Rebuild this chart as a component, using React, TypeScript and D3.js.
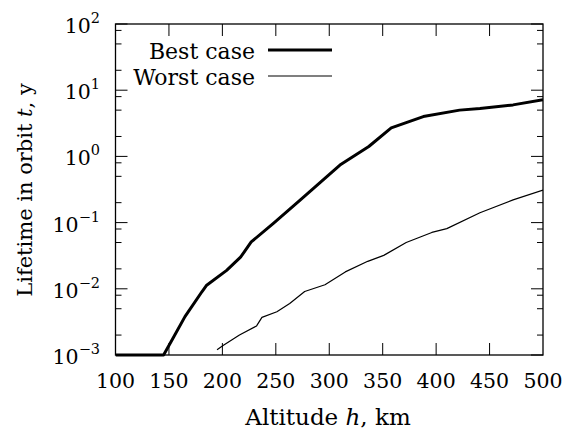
import React from "react";
import * as d3 from "d3";

const xTicks = [100, 150, 200, 250, 300, 350, 400, 450, 500];
const yExponents = [2, 1, 0, -1, -2, -3];

const bestAlt = [100, 145, 153, 165, 181, 185, 204, 217, 227, 248, 273, 310, 337, 358, 388, 422, 441, 472, 500];
const bestLife = [0.00001, 0.001, 0.0017, 0.0038, 0.0091, 0.0112, 0.019, 0.03, 0.051, 0.098, 0.22, 0.74, 1.41, 2.7, 4.0, 5.0, 5.3, 6.0, 7.2];

const worstAlt = [195, 201, 216, 232, 237, 251, 263, 277, 296, 315, 336, 351, 372, 396, 410, 441, 472, 500];
const worstLife = [0.0012, 0.0014, 0.002, 0.00275, 0.0037, 0.0045, 0.006, 0.0091, 0.0115, 0.018, 0.026, 0.032, 0.05, 0.071, 0.081, 0.141, 0.22, 0.31];

const seriesNames = ["Best case", "Worst case"];

const W = 569;
const H = 430;
const L = 115.5, R = 543, T = 24, B = 355;
const FONT = "'DejaVu Serif', serif";

export default function App() {
  const x = d3.scaleLinear().domain([100, 500]).range([L, R]);
  const y = d3.scaleLog().domain([1e-3, 1e2]).range([B, T]).clamp(true);
  const line = d3
    .line<[number, number]>()
    .x((d) => x(d[0]))
    .y((d) => y(d[1]));
  const best: [number, number][] = bestAlt.map((a, i) => [a, bestLife[i]]);
  const worst: [number, number][] = worstAlt.map((a, i) => [a, worstLife[i]]);

  const minor: number[] = [];
  for (let e = -3; e < 2; e++) {
    [2, 5, 8].forEach((m) => minor.push(m * Math.pow(10, e)));
  }
  const major = yExponents.map((e) => Math.pow(10, e));
  const ts = { fontFamily: FONT };

  return (
    <svg
      width={W}
      height={H}
      style={{ position: "absolute", left: 0, top: 0, background: "#fff", fontFamily: FONT }}
    >
      <defs>
        <clipPath id="plotclip">
          <rect x={L} y={T - 2} width={R - L} height={B - T + 4} />
        </clipPath>
      </defs>
      <rect x={0} y={0} width={W} height={H} fill="#fff" />
      <g stroke="#000" strokeWidth={1}>
        {xTicks.slice(1, -1).map((t) => (
          <g key={"xt" + t}>
            <line x1={x(t)} x2={x(t)} y1={B} y2={B - 12} />
            <line x1={x(t)} x2={x(t)} y1={T} y2={T + 12} />
          </g>
        ))}
        {major.map((v) => (
          <g key={"ym" + v}>
            <line x1={L} x2={L + 12} y1={y(v)} y2={y(v)} />
            <line x1={R} x2={R - 12} y1={y(v)} y2={y(v)} />
          </g>
        ))}
        {minor.map((v) => (
          <g key={"yn" + v}>
            <line x1={L} x2={L + 6} y1={y(v)} y2={y(v)} />
            <line x1={R} x2={R - 6} y1={y(v)} y2={y(v)} />
          </g>
        ))}
      </g>
      <g clipPath="url(#plotclip)" fill="none" stroke="#000" strokeLinejoin="round">
        <path d={line(best) || ""} strokeWidth={3} />
        <path d={line(worst) || ""} strokeWidth={1.2} />
      </g>
      <rect x={L} y={T} width={R - L} height={B - T} fill="none" stroke="#000" strokeWidth={1.3} />
      <g fontSize={20.5} textAnchor="middle">
        {xTicks.map((t) => (
          <text key={"xl" + t} x={x(t)} y={388} style={ts}>
            {t}
          </text>
        ))}
      </g>
      <g fontSize={20.5} textAnchor="end">
        {yExponents.map((e) => (
          <text key={"yl" + e} x={100} y={y(Math.pow(10, e)) + 9} style={ts}>
            10
            <tspan fontSize={14.5} dy={-10}>
              {e < 0 ? "\u2212" + Math.abs(e) : String(e)}
            </tspan>
          </text>
        ))}
      </g>
      <text x={328} y={425} fontSize={23} textAnchor="middle" style={ts}>
        Altitude <tspan fontStyle="italic">h</tspan>, km
      </text>
      <text transform="translate(32,190) rotate(-90)" fontSize={21} textAnchor="middle" style={ts}>
        Lifetime in orbit <tspan fontStyle="italic">t</tspan>, y
      </text>
      <g fontSize={22} textAnchor="end">
        <text x={255} y={59} style={ts}>{seriesNames[0]}</text>
        <text x={255} y={85} style={ts}>{seriesNames[1]}</text>
      </g>
      <line x1={268} x2={332} y1={50} y2={50} stroke="#000" strokeWidth={3} />
      <line x1={268} x2={332} y1={76} y2={76} stroke="#000" strokeWidth={1.2} />
    </svg>
  );
}
